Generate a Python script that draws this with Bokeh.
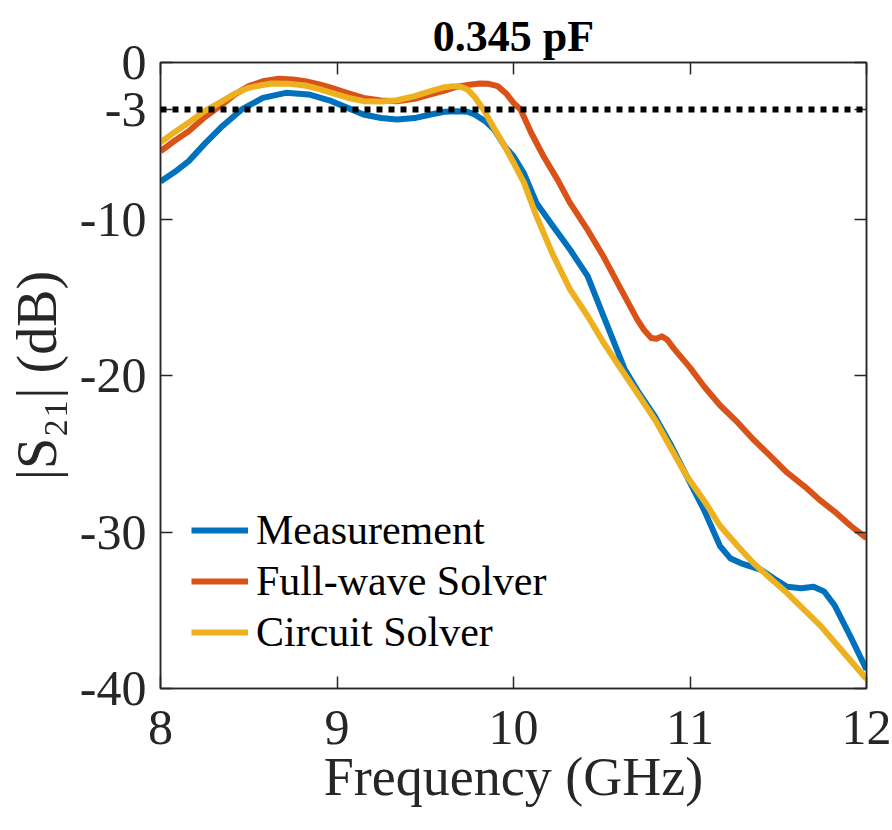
from bokeh.plotting import figure
from bokeh.models import Range1d, LinearAxis, Span, FixedTicker, CustomLabelingPolicy
from bokeh.embed import file_html
from bokeh.resources import INLINE

# ---- data ----
meas_f = [8.00, 8.08, 8.16, 8.25, 8.35, 8.46, 8.58, 8.71, 8.84, 8.97, 9.06, 9.15, 9.25, 9.34,
          9.44, 9.53, 9.61, 9.68, 9.74, 9.78, 9.84, 9.89, 9.95, 10.00, 10.06, 10.13, 10.22,
          10.32, 10.42, 10.51, 10.57, 10.63, 10.71, 10.80, 10.89, 10.98, 11.08, 11.17, 11.23,
          11.29, 11.40, 11.48, 11.55, 11.63, 11.70, 11.76, 11.82, 11.91, 12.00]
meas_db = [-7.6, -7.0, -6.3, -5.2, -4.07, -3.0, -2.26, -1.94, -2.04, -2.47, -2.9, -3.32, -3.55, -3.64,
           -3.55, -3.32, -3.15, -3.11, -3.15, -3.32, -3.75, -4.28, -5.35, -5.99, -7.1, -8.97, -10.4,
           -11.95, -13.65, -16.2, -17.9, -19.6, -21.1, -22.6, -24.4, -26.4, -28.6, -30.9, -31.7,
           -32.0, -32.4, -33.0, -33.5, -33.6, -33.5, -33.8, -34.7, -36.7, -38.8]

fw_f = [8.00, 8.08, 8.16, 8.25, 8.35, 8.42, 8.50, 8.58, 8.67, 8.75, 8.82, 8.90, 8.97, 9.06, 9.15,
        9.25, 9.34, 9.44, 9.53, 9.61, 9.68, 9.75, 9.81, 9.86, 9.91, 9.96, 10.00, 10.04, 10.10,
        10.17, 10.25, 10.32, 10.42, 10.51, 10.60, 10.70, 10.74, 10.78, 10.81, 10.84, 10.87,
        10.91, 11.00, 11.08, 11.17, 11.27, 11.36, 11.46, 11.55, 11.65, 11.74, 11.83, 11.91, 12.00]
fw_db = [-5.67, -5.0, -4.39, -3.5, -2.68, -2.05, -1.51, -1.2, -1.04, -1.08, -1.19, -1.4, -1.62, -1.95, -2.26,
         -2.42, -2.47, -2.32, -2.04, -1.8, -1.55, -1.42, -1.34, -1.36, -1.51, -2.0, -2.58, -3.0, -4.49,
         -5.99, -7.5, -8.97, -10.7, -12.4, -14.3, -16.4, -17.1, -17.6, -17.65, -17.5, -17.7,
         -18.3, -19.5, -20.7, -21.9, -23.0, -24.1, -25.2, -26.2, -27.1, -28.0, -28.8, -29.6, -30.4]

cs_f = [8.00, 8.08, 8.16, 8.25, 8.35, 8.42, 8.50, 8.57, 8.63, 8.72, 8.82, 8.90, 8.97, 9.06, 9.15,
        9.25, 9.34, 9.44, 9.53, 9.60, 9.66, 9.70, 9.74, 9.78, 9.83, 9.89, 9.95, 10.00, 10.06,
        10.13, 10.22, 10.32, 10.42, 10.51, 10.61, 10.70, 10.80, 10.89, 10.98, 11.08, 11.17,
        11.27, 11.36, 11.45, 11.55, 11.64, 11.74, 11.87, 12.00]
cs_db = [-5.1, -4.45, -3.84, -3.1, -2.47, -2.0, -1.62, -1.45, -1.34, -1.35, -1.47, -1.7, -1.94, -2.25, -2.47,
         -2.5, -2.41, -2.15, -1.83, -1.6, -1.51, -1.55, -1.73, -2.2, -3.0, -4.2, -5.35, -6.4, -7.69,
         -9.82, -12.2, -14.5, -16.2, -17.9, -19.6, -21.1, -22.8, -24.6, -26.4, -28.0, -29.6,
         -30.9, -32.0, -32.9, -33.9, -34.9, -36.0, -37.7, -39.4]

threshold_db = -3
x_ticks = [8, 9, 10, 11, 12]
y_ticks = [-40, -30, -20, -10, -3, 0]
y_tick_labels = {t: str(t) for t in y_ticks}   # plain hyphen-minus as in the reference

BLUE, ORANGE, YELLOW = "#0072BD", "#D95319", "#EDB120"
FONT = "Liberation Serif"
INK = "#262626"

p = figure(width=892, height=830, x_range=Range1d(8, 12), y_range=Range1d(-40, 0),
           output_backend="svg", toolbar_location=None,
           min_border_left=160, min_border_right=26, min_border_top=62, min_border_bottom=142,
           title="0.345 pF")

p.title.text_font = FONT
p.title.text_font_size = "44px"
p.title.text_font_style = "bold"
p.title.text_color = "black"
p.title.align = "center"
p.title.offset = 0
p.title.standoff = 4

p.xgrid.visible = False
p.ygrid.visible = False
p.outline_line_color = INK
p.outline_line_width = 1.5

for ax in (p.xaxis[0], p.yaxis[0]):
    ax.major_label_text_font = FONT
    ax.major_label_text_font_size = "50px"
    ax.major_label_text_color = INK
    ax.axis_label_text_font = FONT
    ax.axis_label_text_font_style = "normal"
    ax.axis_label_text_color = INK
    ax.major_tick_in = 12
    ax.major_tick_out = 0
    ax.minor_tick_line_color = None
    ax.axis_line_color = INK
    ax.axis_line_width = 1.5
    ax.major_tick_line_color = INK
    ax.major_tick_line_width = 1.5

p.xaxis[0].ticker = FixedTicker(ticks=x_ticks)
p.yaxis[0].ticker = FixedTicker(ticks=y_ticks)
p.yaxis[0].major_label_overrides = y_tick_labels
p.xaxis[0].axis_label = "Frequency (GHz)"
p.yaxis[0].axis_label = "|S\u2082\u2081| (dB)"
p.xaxis[0].axis_label_text_font_size = "54px"
p.yaxis[0].axis_label_text_font_size = "56px"
p.xaxis[0].major_label_standoff = 22
p.yaxis[0].major_label_standoff = 14
p.xaxis[0].axis_label_standoff = 0
p.yaxis[0].axis_label_standoff = 9

no_labels = CustomLabelingPolicy(code="""
try { return new indices.constructor(indices.size, 0) } catch (e) { return indices }
""")

for loc, tk in (("above", x_ticks), ("right", y_ticks)):
    ax = LinearAxis(ticker=FixedTicker(ticks=tk))
    ax.major_label_policy = no_labels
    ax.major_label_text_font_size = "0px"
    ax.major_label_standoff = 0
    ax.major_tick_in = 12
    ax.major_tick_out = 0
    ax.minor_tick_line_color = None
    ax.axis_line_color = INK
    ax.axis_line_width = 1.5
    ax.major_tick_line_color = INK
    ax.major_tick_line_width = 1.5
    p.add_layout(ax, loc)

p.add_layout(Span(location=threshold_db, dimension="width", line_color="black",
                  line_width=6, line_dash="6 6"))

p.line(meas_f, meas_db, line_color=BLUE, line_width=6, line_join="round", legend_label="Measurement")
p.line(fw_f, fw_db, line_color=ORANGE, line_width=6, line_join="round", legend_label="Full-wave Solver")
p.line(cs_f, cs_db, line_color=YELLOW, line_width=6, line_join="round", legend_label="Circuit Solver")

lg = p.legend[0]
lg.location = (31, 32)
lg.border_line_color = None
lg.background_fill_alpha = 0
lg.label_text_font = FONT
lg.label_text_font_size = "42px"
lg.label_text_color = "black"
lg.glyph_width = 57
lg.glyph_height = 48
lg.label_height = 48
lg.label_standoff = 8
lg.spacing = 3
lg.padding = 10
lg.margin = 0

open("out.html", "w").write(file_html(p, INLINE))
